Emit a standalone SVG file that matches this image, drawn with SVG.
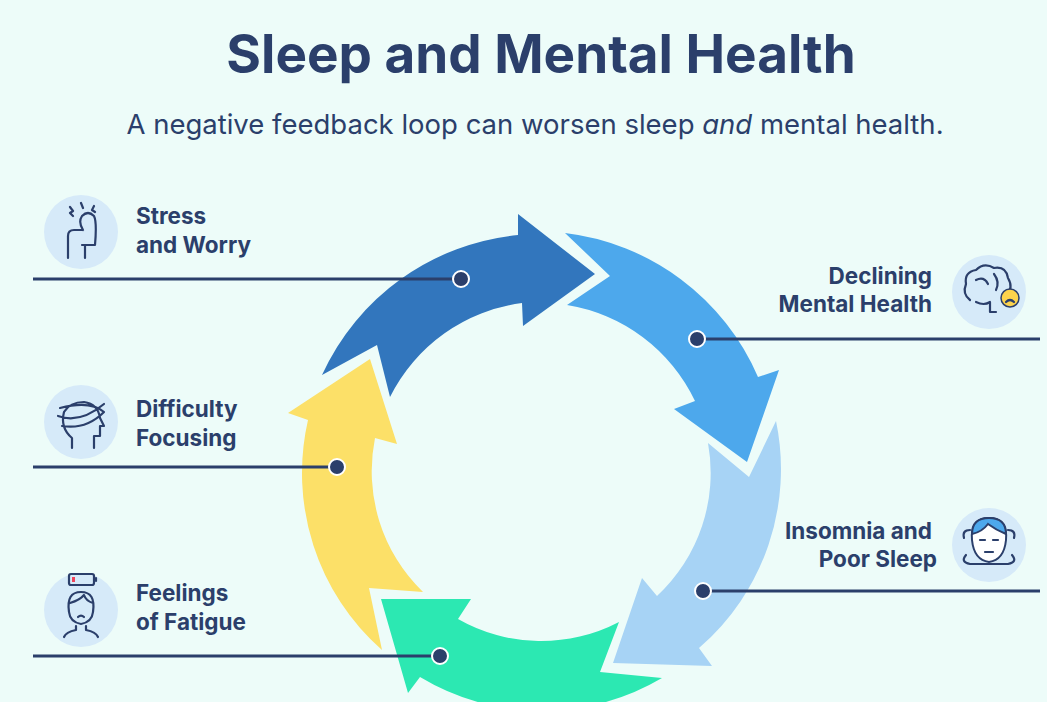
<svg xmlns="http://www.w3.org/2000/svg" width="1047" height="702" viewBox="0 0 1047 702">
<style>
.t{font-family:Inter,"Liberation Sans",sans-serif;fill:#2b3f6b}
.lb{font-family:Inter,"Liberation Sans",sans-serif;fill:#2b3f6b;font-weight:700;font-size:22.5px}
.ln{stroke:#2b3f6b;stroke-width:3;fill:none}
.dot{fill:#2b3f6b;stroke:#fff;stroke-width:2}
.ic{fill:#d6eaf9}
.is{stroke:#2b3f6b;stroke-width:2.2;fill:none;stroke-linecap:round;stroke-linejoin:round}
</style>
<rect width="1047" height="702" fill="#edfcf9"/>
<text class="t" x="541" y="73" text-anchor="middle" font-size="53" font-weight="700">Sleep and Mental Health</text>
<text class="t" x="535" y="134" text-anchor="middle" font-size="27.5">A negative feedback loop can worsen sleep <tspan font-style="italic">and</tspan> mental health.</text>
<g id="arrows">
<path id="a1" fill="#3276bd" d="M322,375 A241,241 0 0 1 518,235 L518,214 L595,274 L523,326 L522,303 A172,172 0 0 0 390,397 L377,345 Z"/>
<path id="a2" fill="#4da8ec" d="M565,233 A241,241 0 0 1 758,377 L779,370 L747,462 L674,409 L695,401 A172,172 0 0 0 567,305 L610,276 Z"/>
<path id="a3" fill="#a7d3f5" d="M776,421 A236,236 0 0 1 699,648 L712,666 L613,663 L642,578 L657,596 A168,168 0 0 0 708,443 L749,477 Z"/>
<path id="a4" fill="#2ce8b2" d="M662,678 A236,236 0 0 1 420,677 L408,693 L381,599 L471,599 L458,619 A168,168 0 0 0 619,622 L600,672 Z"/>
<path id="a5" fill="#fce068" d="M382,650 A236,236 0 0 1 308,420 L288,413 L370,359 L397,444 L375,438 A168,168 0 0 0 423,592 L369,588 Z"/>
</g>
<g id="connectors">
<path class="ln" d="M33,279 H461"/><circle class="dot" cx="461" cy="279" r="8"/>
<path class="ln" d="M33,467 H337"/><circle class="dot" cx="337" cy="467" r="8"/>
<path class="ln" d="M33,656 H440"/><circle class="dot" cx="440" cy="656" r="8"/>
<path class="ln" d="M697,339 H1040"/><circle class="dot" cx="697" cy="339" r="8"/>
<path class="ln" d="M703,591 H1040"/><circle class="dot" cx="703" cy="591" r="8"/>
</g>
<g id="stress">
<circle class="ic" cx="81" cy="232" r="37"/>
<path class="is" d="M68,258 V236 Q68,230 74,230 H83 M83,230 Q78,222 82,216 Q88,210 94,216 Q97,222 95,245 H82 M85,245 V258 M70,207 l3,4 -3,2 3,3 M81,203 l2,5 M94,206 l-2,4 3,2"/>
<text class="lb" x="136" y="224">Stress</text>
<text class="lb" x="136" y="253">and Worry</text>
</g>
<g id="focus">
<circle class="ic" cx="81" cy="422" r="37"/>
<path class="is" d="M72,448 V438 Q60,428 64,412 Q70,402 84,402 Q98,404 100,418 L104,426 H100 V436 H94 V448 M58,416 Q80,424 104,404 M60,408 Q90,400 104,412 Q86,430 62,426"/>
<text class="lb" x="136" y="417">Difficulty</text>
<text class="lb" x="136" y="446">Focusing</text>
</g>
<g id="fatigue">
<circle class="ic" cx="81" cy="610" r="37"/>
<rect x="69" y="574" width="25" height="11" rx="2" class="is"/><path class="is" d="M96,578 v3"/><rect x="72" y="577" width="3" height="5" fill="#f0445a"/>
<path class="is" d="M69,612 Q66,592 81,592 Q96,592 93,612 Q92,622 81,624 Q70,622 69,612 M70,603 Q80,600 84,595 Q86,601 93,603 M76,626 V630 Q66,632 64,637 M86,626 V630 Q96,632 98,637 M78,617 Q81,614 84,617"/>
<text class="lb" x="136" y="601">Feelings</text>
<text class="lb" x="136" y="630">of Fatigue</text>
</g>
<g id="declining">
<circle class="ic" cx="989" cy="292" r="37"/>
<path class="is" d="M970,300 Q962,294 966,284 Q964,272 976,270 Q984,262 994,268 Q1006,266 1008,278 Q1014,288 1006,296 M976,302 Q984,306 990,302 M990,302 V312 H996 M976,280 Q984,276 988,284 M994,274 Q1000,282 996,290"/>
<circle cx="1010" cy="298" r="9" fill="#fcd34d" stroke="#2b3f6b" stroke-width="1.5"/>
<path class="is" stroke-width="1.5" d="M1006,302 Q1010,298 1014,302"/>
<text class="lb" x="932" y="284" text-anchor="end">Declining</text>
<text class="lb" x="932" y="312" text-anchor="end">Mental Health</text>
</g>
<g id="insomnia">
<circle class="ic" cx="989" cy="545" r="37"/>
<path class="is" d="M964,538 Q962,530 970,530 M1014,538 Q1016,530 1008,530 M966,555 Q960,562 970,564 H1008 Q1018,562 1012,555"/>
<path d="M972,540 Q970,518 989,518 Q1008,518 1006,540 Q1004,560 989,562 Q974,560 972,540Z" fill="#fff" stroke="#2b3f6b" stroke-width="2"/>
<path d="M972,534 Q972,518 989,518 Q1006,518 1006,534 Q996,530 988,524 Q982,532 972,534Z" fill="#4da8ec" stroke="#2b3f6b" stroke-width="2"/>
<path class="is" stroke-width="1.6" d="M980,540 h5 M993,540 h5 M985,552 h8"/>
<text class="lb" x="932" y="539" text-anchor="end">Insomnia and</text>
<text class="lb" x="937" y="567" text-anchor="end">Poor Sleep</text>
</g>
</svg>
